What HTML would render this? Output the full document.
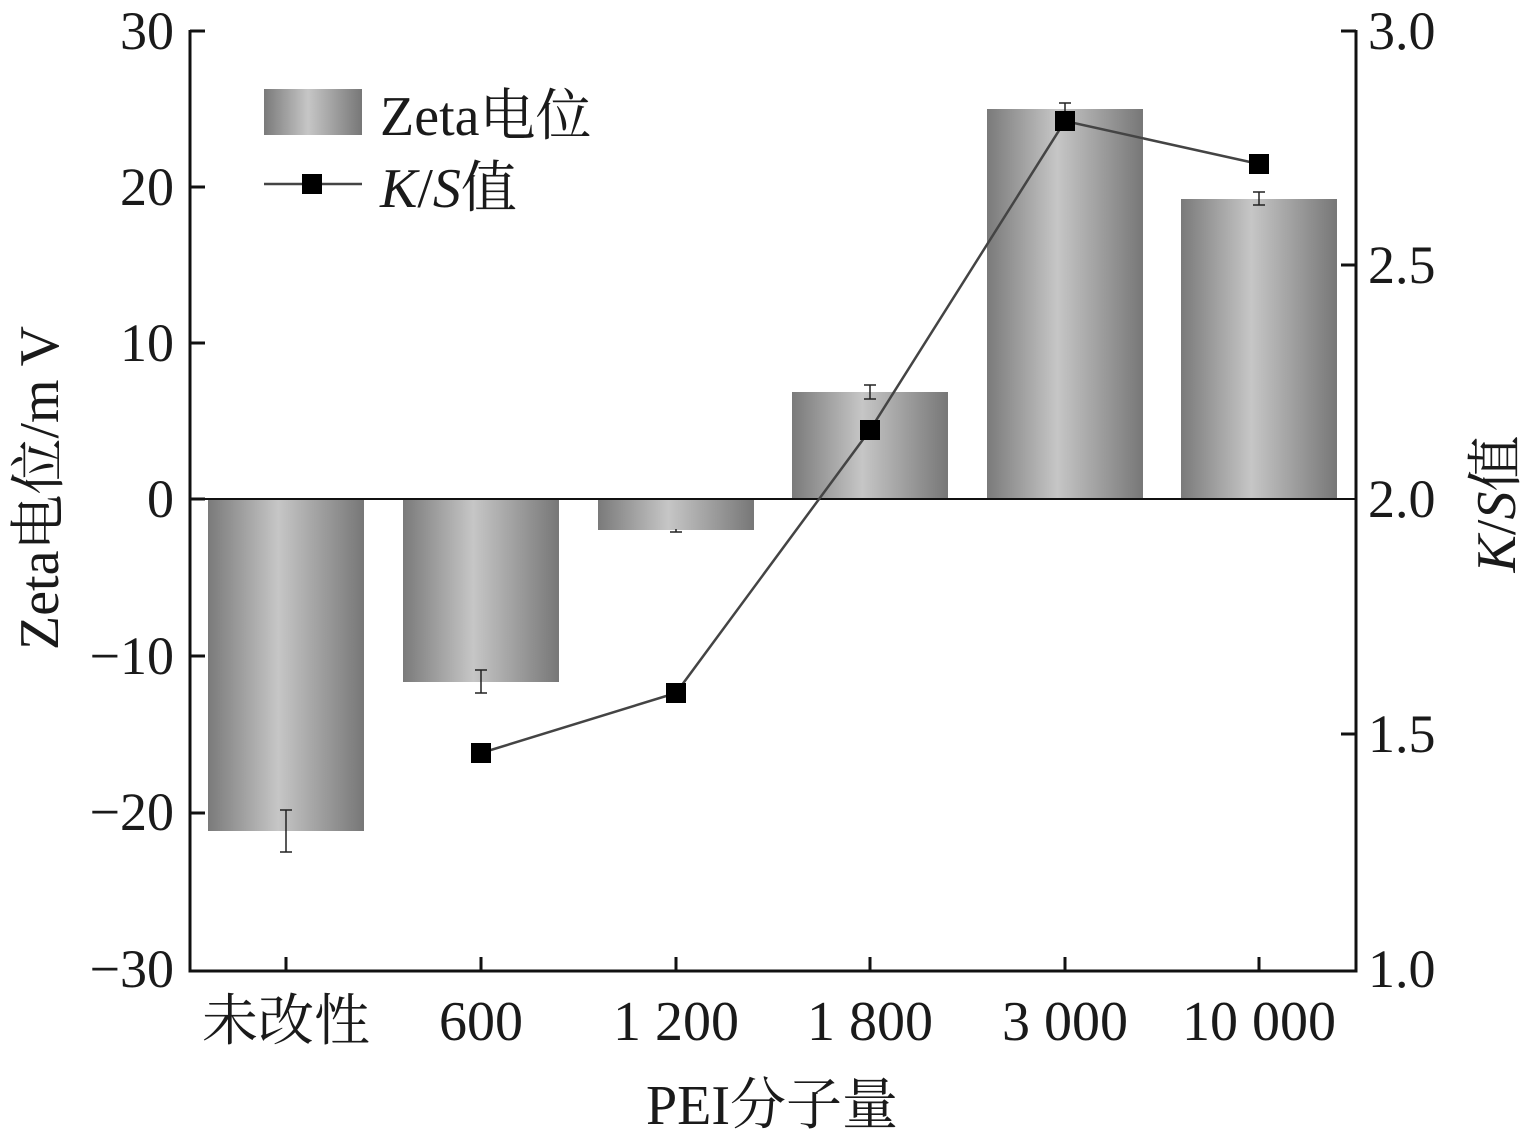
<!DOCTYPE html>
<html><head><meta charset="utf-8"><style>
body{margin:0;background:#fff}
text{font-family:"Liberation Serif","Noto Serif CJK SC",serif;fill:#1a1a1a}
</style></head><body>
<svg width="1534" height="1142" viewBox="0 0 1534 1142" xmlns="http://www.w3.org/2000/svg">
<defs>
<linearGradient id="g" x1="0" x2="1" y1="0" y2="0">
<stop offset="0" stop-color="#7a7a7a"/>
<stop offset="0.45" stop-color="#c6c6c6"/>
<stop offset="1" stop-color="#777"/>
</linearGradient>
</defs>
<g fill="url(#g)">
<rect x="208" y="499" width="156" height="332"/>
<rect x="403" y="499" width="156" height="183"/>
<rect x="598" y="499" width="156" height="31"/>
<rect x="792" y="392" width="156" height="107"/>
<rect x="987" y="109" width="156" height="390"/>
<rect x="1181" y="199" width="156" height="300"/>
</g>
<line x1="190" y1="499" x2="1356" y2="499" stroke="#111" stroke-width="2"/>
<g stroke="#222" stroke-width="1.5" fill="none">
<path d="M286 810V852M280 810H292M280 852H292"/>
<path d="M481 670V693M475 670H487M475 693H487"/>
<path d="M676 529V532M670 532H682"/>
<path d="M870 385V399M864 385H876M864 399H876"/>
<path d="M1065 103V115M1059 103H1071M1059 115H1071"/>
<path d="M1259 192V205M1253 192H1265M1253 205H1265"/>
</g>
<polyline points="481,753 676,693 870,430 1065,121 1259,164" fill="none" stroke="#444" stroke-width="2.5"/>
<g fill="#000">
<rect x="471" y="743" width="20" height="20"/><rect x="666" y="683" width="20" height="20"/>
<rect x="860" y="420" width="20" height="20"/><rect x="1055" y="111" width="20" height="20"/>
<rect x="1249" y="154" width="20" height="20"/>
</g>
<g stroke="#111" stroke-width="3" fill="none">
<path d="M190 30V971H1356V30"/>
<path d="M190 31H205M190 187H205M190 343H205M190 499H205M190 656H205M190 813H205"/>
<path d="M1356 31H1341M1356 265H1341M1356 734H1341"/>
<path d="M286 971V957M481 971V957M676 971V957M870 971V957M1065 971V957M1259 971V957"/>
</g>
<g font-size="54" text-anchor="end">
<text x="174" y="49">30</text><text x="174" y="205">20</text><text x="174" y="361">10</text>
<text x="174" y="517">0</text><text x="174" y="674">−10</text><text x="174" y="830">−20</text><text x="174" y="987">−30</text>
</g>
<g font-size="54">
<text x="1368" y="49">3.0</text><text x="1368" y="283">2.5</text><text x="1368" y="517">2.0</text>
<text x="1368" y="752">1.5</text><text x="1368" y="987">1.0</text>
</g>
<g font-size="56" text-anchor="middle">
<text x="286" y="1040">未改性</text><text x="481" y="1040">600</text><text x="676" y="1040">1 200</text>
<text x="870" y="1040">1 800</text><text x="1065" y="1040">3 000</text><text x="1259" y="1040">10 000</text>
<text x="772" y="1124">PEI分子量</text>
</g>
<text transform="translate(58,488) rotate(-90)" font-size="56" text-anchor="middle">Zeta电位/m V</text>
<text transform="translate(1515,504) rotate(-90)" font-size="56" text-anchor="middle"><tspan font-style="italic">K</tspan>/<tspan font-style="italic">S</tspan>值</text>
<rect x="264" y="89" width="98" height="46" fill="url(#g)"/>
<text x="380" y="135" font-size="56">Zeta电位</text>
<line x1="264" y1="184" x2="362" y2="184" stroke="#444" stroke-width="2.5"/>
<rect x="302" y="174" width="20" height="20" fill="#000"/>
<text x="380" y="207" font-size="56"><tspan font-style="italic">K</tspan>/<tspan font-style="italic">S</tspan>值</text>
</svg>
</body></html>
